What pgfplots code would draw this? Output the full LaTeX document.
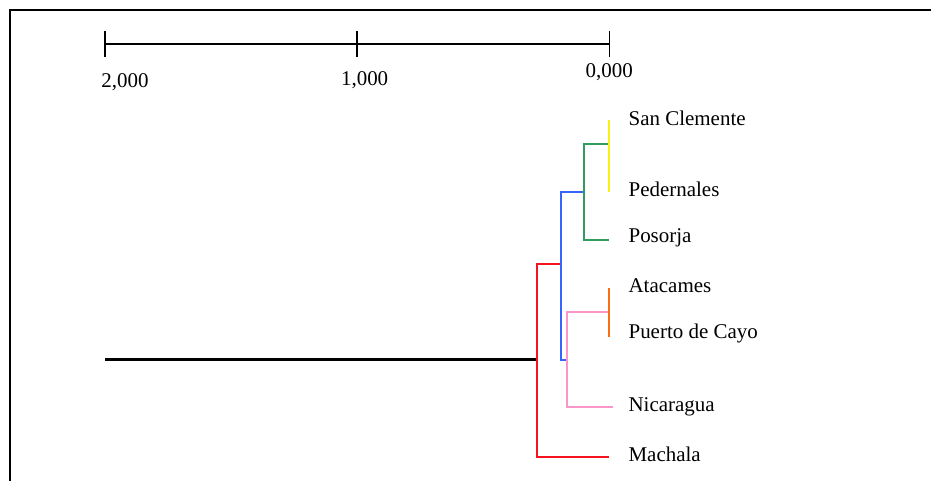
\documentclass[border=0pt]{standalone}
\usepackage{pgfplots}
\pgfplotsset{compat=1.18}
\usepackage{fontspec}
\setmainfont{Liberation Serif}
\definecolor{cyel}{RGB}{250,240,20}
\definecolor{cgrn}{RGB}{50,155,95}
\definecolor{cblu}{RGB}{55,100,250}
\definecolor{cred}{RGB}{245,20,30}
\definecolor{cpnk}{RGB}{250,150,200}
\definecolor{corg}{RGB}{250,110,20}
\begin{document}
\begin{tikzpicture}
\begin{axis}[
  scale only axis, width=466pt, height=241pt,
  hide axis, clip=false,
  x dir=reverse, y dir=reverse,
  xmin=-1.2752, xmax=2.4158, ymin=0, ymax=482,
  font=\fontsize{10.5pt}{12pt}\selectfont,
]
\path (rel axis cs:0,0) rectangle (rel axis cs:1,1);
% frame (top and left)
\addplot[black, line width=1.1pt] coordinates {(-1.2752,10) (2.376,10) (2.376,482)};
% scale bar
\addplot[black, line width=1pt] coordinates {(2,44) (0,44)};
\addplot[black, line width=0.7pt] coordinates {(2,31) (2,57)};
\addplot[black, line width=0.7pt] coordinates {(1,31) (1,57)};
\addplot[black, line width=0.7pt] coordinates {(0,31) (0,57)};
\node at (axis cs:1.92,82) {2,000};
\node at (axis cs:0.97,80) {1,000};
\node at (axis cs:0,72) {0,000};
% root
\addplot[black, line width=1.15pt] coordinates {(2,360) (0.285,360)};
% red
\addplot[cred, line width=1pt] coordinates {(0.190,264) (0.285,264) (0.285,458) (0,458)};
% blue
\addplot[cblu, line width=1pt] coordinates {(0.099,192) (0.190,192) (0.190,360) (0.166,360)};
% green
\addplot[cgrn, line width=1pt] coordinates {(0,144) (0.099,144) (0.099,240) (0,240)};
% yellow
\addplot[cyel, line width=1pt] coordinates {(0,120) (0,192)};
% pink
\addplot[cpnk, line width=1pt] coordinates {(0,312) (0.166,312) (0.166,407) (-0.016,407)};
% orange
\addplot[corg, line width=1pt] coordinates {(0,288) (0,337)};
% leaf labels
\node[anchor=west, inner sep=0pt] at (axis cs:-0.075,118) {San Clemente};
\node[anchor=west, inner sep=0pt] at (axis cs:-0.075,190) {Pedernales};
\node[anchor=west, inner sep=0pt] at (axis cs:-0.075,238) {Posorja};
\node[anchor=west, inner sep=0pt] at (axis cs:-0.075,286) {Atacames};
\node[anchor=west, inner sep=0pt] at (axis cs:-0.075,334) {Puerto de Cayo};
\node[anchor=west, inner sep=0pt] at (axis cs:-0.075,407) {Nicaragua};
\node[anchor=west, inner sep=0pt] at (axis cs:-0.075,455) {Machala};
\end{axis}
\end{tikzpicture}
\end{document}
